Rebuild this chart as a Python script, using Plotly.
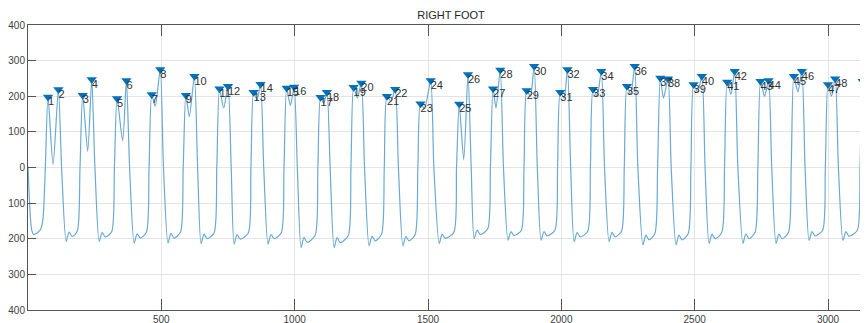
import plotly.graph_objects as go

# ---------------- data ----------------
# detected peaks (x sample index, amplitude)
peak_x = [75, 114, 205, 239, 334, 369, 464, 496, 592, 624, 718, 750, 846, 872, 970, 998,
          1097, 1121, 1221, 1250, 1346, 1377, 1472, 1510, 1617, 1650, 1744, 1771, 1870, 1898,
          1996, 2023, 2119, 2150, 2246, 2275, 2371, 2400, 2496, 2527, 2622, 2650, 2747, 2777,
          2872, 2902, 3000, 3027, 3130, 3147]
peak_y = [198, 219, 203, 247, 194, 244, 205, 275, 203, 256, 221, 228, 211, 234, 223, 226,
          197, 211, 225, 237, 200, 220, 179, 244, 178, 261, 221, 274, 216, 284,
          211, 275, 220, 270, 228, 284, 251, 249, 233, 256, 240, 270, 242, 244,
          256, 270, 233, 249, 242, 305]
peak_labels = [str(i) for i in range(1, len(peak_x) + 1)]

# dip between the two peaks of each step
mid_x = [94, 224, 355, 477, 605, 734, 859, 984, 1109, 1235, 1361, 1487, 1634, 1755, 1884,
         2010, 2134, 2260, 2383, 2511, 2636, 2762, 2887, 3013, 3139]
mid_y = [8, 45, 75, 172, 143, 167, 190, 174, 180, 195, 186, 165, 22, 167, 200,
         195, 200, 205, 195, 212, 205, 200, 212, 200, 215]

# falling edge zero crossings
fall_x = [126, 251, 381, 508, 636, 762, 884, 1010, 1133, 1262, 1389, 1522, 1662, 1783, 1910,
          2035, 2162, 2287, 2412, 2539, 2662, 2789, 2914, 3039]
# trough "W": first dip, bump, second dip
dip1_x = [143, 267, 398, 525, 649, 773, 900, 1024, 1148, 1279, 1406, 1542, 1673, 1800, 1924,
          2048, 2179, 2306, 2430, 2554, 2681, 2805, 2929, 3056]
dip1_y = [-208, -208, -212, -212, -214, -215, -215, -225, -225, -220, -220, -213, -200, -204,
          -204, -208, -208, -217, -217, -213, -213, -213, -205, -205]
bump_x = [154, 278, 409, 536, 660, 784, 911, 1035, 1159, 1290, 1417, 1553, 1684, 1811, 1935,
          2059, 2190, 2317, 2441, 2565, 2692, 2816, 2940, 3067]
bump_y = [-181, -183, -186, -185, -187, -188, -188, -196, -197, -193, -194, -187, -176, -180,
          -180, -183, -182, -190, -190, -187, -186, -187, -180, -180]
dip2_x = [166, 290, 421, 548, 672, 796, 923, 1047, 1171, 1302, 1429, 1565, 1696, 1823, 1947,
          2071, 2202, 2329, 2453, 2577, 2704, 2828, 2952, 3079]
dip2_y = [-194, -195, -198, -198, -200, -201, -200, -210, -211, -206, -206, -199, -188, -191,
          -192, -195, -195, -203, -203, -200, -200, -200, -192, -193]
# start of the rising edge and its zero crossing
foot_x = [185, 314, 444, 572, 698, 826, 950, 1077, 1201, 1326, 1452, 1597, 1724, 1850, 1976,
          2099, 2226, 2351, 2476, 2602, 2727, 2852, 2980, 3110]
foot_y = [-178, -180, -182, -181, -183, -184, -183, -190, -191, -187, -188, -182, -172, -176,
          -176, -179, -178, -185, -185, -182, -181, -182, -176, -176]
rise_x = [195, 324, 454, 582, 708, 836, 960, 1087, 1211, 1336, 1462, 1607, 1734, 1860, 1986,
          2109, 2236, 2361, 2486, 2612, 2737, 2862, 2990, 3120]

# beginning of the recording before the first step
start_x = [0, 6, 13, 21, 34, 47, 56, 65]
start_y = [3, -100, -172, -188, -184, -174, -145, 0]
# end of the recording after the last peak
end_x = [3160]
end_y = [0]

x_ticks = [500, 1000, 1500, 2000, 2500, 3000]
y_ticks = [-400, -300, -200, -100, 0, 100, 200, 300, 400]

# ---------------- assemble the signal from the keypoints ----------------
line_x, line_y = list(start_x), list(start_y)
for k in range(len(mid_x)):
    line_x += [peak_x[2 * k], mid_x[k], peak_x[2 * k + 1]]
    line_y += [peak_y[2 * k], mid_y[k], peak_y[2 * k + 1]]
    if k < len(fall_x):
        line_x += [fall_x[k], dip1_x[k], bump_x[k], dip2_x[k], foot_x[k], rise_x[k]]
        line_y += [0, dip1_y[k], bump_y[k], dip2_y[k], foot_y[k], 0]
line_x += end_x
line_y += end_y

FONT = "Liberation Sans Narrow, Arial Narrow, Liberation Sans, Arial, sans-serif"

# the page body has an 8px margin, so the figure is sized/offset to compensate
FIG_W, FIG_H = 860, 315

fig = go.Figure()
fig.add_trace(go.Scatter(
    x=line_x, y=line_y, mode="lines",
    line=dict(color="#6aa9d3", width=1.2, shape="spline", smoothing=0.7),
    hoverinfo="skip", showlegend=False))
fig.add_trace(go.Scatter(
    x=peak_x, y=peak_y, mode="markers",
    marker=dict(symbol="triangle-down", size=9, color="#0072BD", line=dict(width=0)),
    showlegend=False))
fig.add_trace(go.Scatter(
    x=peak_x, y=peak_y, mode="text", text=peak_labels,
    textposition="bottom right",
    textfont=dict(family=FONT, size=11, color="#303030"),
    showlegend=False))

axis_common = dict(
    showline=True, linecolor="#555555", linewidth=1, mirror="ticks",
    ticks="inside", tickcolor="#555555", tickwidth=1, automargin=False,
    showgrid=True, gridcolor="#e4e4e4", gridwidth=1, zeroline=False,
    tickfont=dict(family=FONT, size=10, color="#404040"),
)
fig.update_xaxes(range=[0, 3150], tickvals=x_ticks, ticklen=11, **axis_common)
fig.update_yaxes(range=[-400, 400], tickvals=y_ticks, ticklen=8, **axis_common)

fig.update_layout(
    width=FIG_W, height=FIG_H,
    margin=dict(l=20, r=0, t=17, b=13, autoexpand=False),
    paper_bgcolor="white", plot_bgcolor="white",
    title=dict(text="RIGHT FOOT", x=0.5036, xref="paper", xanchor="center",
               y=1 - 7.5 / FIG_H, yref="container", yanchor="middle",
               font=dict(family=FONT, size=11, color="#262626")),
)

fig.write_html("out.html")
